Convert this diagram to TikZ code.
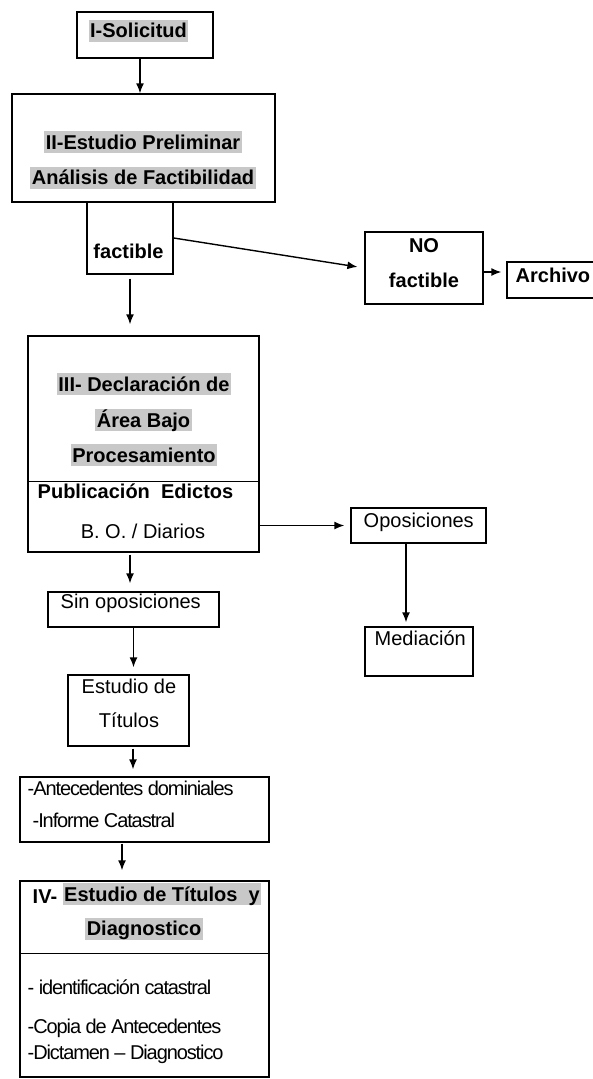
\documentclass[tikz,border=0pt]{standalone}
\usepackage{fontspec}
\setmainfont{Liberation Sans}
\newfontfamily\narrowfont{Liberation Sans}[LetterSpace=-5.5]
\usetikzlibrary{arrows.meta}
\definecolor{hlgray}{RGB}{200,200,200}

\begin{document}
\begin{tikzpicture}[x=1pt, y=-1pt, line width=1.4pt, >={Latex[length=10pt,width=8pt]},
  box/.style={draw, inner sep=0pt},
  lbl/.style={inner xsep=1pt, inner ysep=0pt, text height=18pt, text depth=4pt, font=\fontsize{20}{24}\selectfont},
  lblb/.style={lbl, font=\fontsize{20}{24}\selectfont\bfseries},
  hl/.style={lblb, fill=hlgray, inner xsep=1.5pt},
  tight/.style={lbl, font=\fontsize{20}{24}\selectfont\narrowfont}]
\useasboundingbox (0,0) rectangle (592,1079);
\fill[white] (0,0) rectangle (592,1079);

\node[box, minimum width=136pt, minimum height=46pt] (sol) at (145,35) {};
\node[box, minimum width=263pt, minimum height=108pt] (est) at (143.5,148) {};
\node[box, minimum width=86pt, minimum height=72pt] (fac) at (130,238) {};
\node[box, minimum width=118pt, minimum height=72pt] (no) at (424,268) {};
\node[box, minimum width=90pt, minimum height=36pt] (arch) at (552,280) {};
\node[box, minimum width=231pt, minimum height=216pt] (iii) at (143.5,444) {};
\node[box, minimum width=135pt, minimum height=35pt] (opo) at (418.5,525.5) {};
\node[box, minimum width=108pt, minimum height=49pt] (med) at (419,651.5) {};
\node[box, minimum width=171pt, minimum height=35pt] (sin) at (133.5,609.5) {};
\node[box, minimum width=121pt, minimum height=71pt] (tit) at (128.5,710.5) {};
\node[box, minimum width=249pt, minimum height=65pt] (ant) at (144.5,809.5) {};
\node[box, minimum width=249pt, minimum height=196pt] (iv) at (144.5,979) {};

\draw ([yshift=71pt]iii.south west) -- ([yshift=71pt]iii.south east);
\draw ([yshift=124pt]iv.south west) -- ([yshift=124pt]iv.south east);

\node[hl] (soltxt) at (138.5,30.5) {I-Solicitud};
\node[hl] (esttxta) at (143,142) {II-Estudio Preliminar};
\node[hl] (esttxtb) at (143,177.5) {Análisis de Factibilidad};
\node[lblb] (factxt) at (128.5,251) {factible};
\node[lblb] (notxta) at (424,245) {NO};
\node[lblb] (notxtb) at (424,280) {factible};
\node[lblb, anchor=west] (archtxt) at (514,275) {Archivo};
\node[hl] (iiitxta) at (144,384) {III- Declaración de};
\node[hl] (iiitxtb) at (143.5,420) {Área Bajo};
\node[hl] (iiitxtc) at (144,455) {Procesamiento};
\node[lblb, anchor=west] (pubtxt) at (36,491) {Publicación\ \ Edictos};
\node[lbl] (botxt) at (143,531) {B. O. / Diarios};
\node[lbl, anchor=west] (opotxt) at (362,520) {Oposiciones};
\node[lbl, anchor=west] (medtxt) at (373,638) {Mediación};
\node[lbl, anchor=west] (sintxt) at (59,601) {Sin oposiciones};
\node[lbl] (tittxta) at (129,686) {Estudio de};
\node[lbl] (tittxtb) at (129,720) {Títulos};
\node[tight, anchor=west] (anttxta) at (26,788) {-Antecedentes dominiales};
\node[tight, anchor=west] (anttxtb) at (31,820) {-Informe Catastral};
\node[lblb, anchor=west] (ivtxta) at (31,896) {IV-};
\node[hl, anchor=west] (ivtxtb) at (62,894) {Estudio de Títulos\ \ y};
\node[hl] (ivtxtc) at (144,928.5) {Diagnostico};
\node[tight, anchor=west] (ivtxtd) at (26,987) {- identificación catastral};
\node[tight, anchor=west] (ivtxte) at (26,1026) {-Copia de Antecedentes};
\node[tight, anchor=west] (ivtxtf) at (26,1052) {-Dictamen – Diagnostico};

\draw[->] ([xshift=-5pt]sol.south) -- ([xshift=-5pt]sol.south |- est.north);
\draw[->, shorten >=7pt] (fac.east) -- (no.west);
\draw[->, shorten >=5pt] ([yshift=-4pt]no.east) -- ([yshift=-4pt]no.east -| arch.west);
\draw[->, shorten <=4pt, shorten >=11pt] (fac.south) -- (fac.south |- iii.north);
\draw[->, shorten >=6pt] (iii.east |- opo.west) -- (opo.west);
\draw[->, shorten >=4pt] ([xshift=-12.5pt]opo.south) -- ([xshift=-12.5pt]opo.south |- med.north);
\draw[->, shorten <=2pt, shorten >=8pt] ([xshift=-13.5pt]iii.south) -- ([xshift=-13.5pt]iii.south |- sin.north);
\draw[->, shorten >=7pt] (sin.south) -- (sin.south |- tit.north);
\draw[->, shorten <=2pt, shorten >=7pt] ([xshift=4.5pt]tit.south) -- ([xshift=4.5pt]tit.south |- ant.north);
\draw[->, shorten <=1pt, shorten >=10pt] ([xshift=-22.5pt]ant.south) -- ([xshift=-22.5pt]ant.south |- iv.north);
\end{tikzpicture}
\end{document}
